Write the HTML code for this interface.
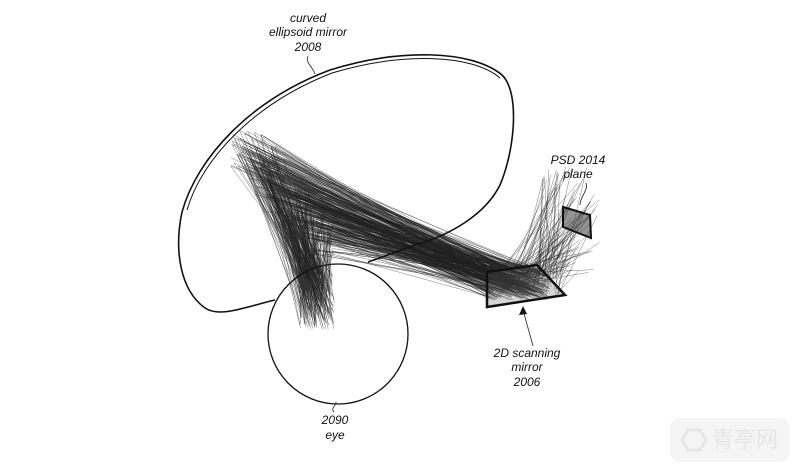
<!DOCTYPE html>
<html><head><meta charset="utf-8"><style>
html,body{margin:0;padding:0;background:#fff;width:800px;height:473px;overflow:hidden}
svg text{font-family:"Liberation Sans","Noto Sans CJK SC",sans-serif;font-style:italic;font-size:12px;fill:#111}
</style></head><body>
<svg id="s" width="800" height="473" viewBox="0 0 800 473" xmlns="http://www.w3.org/2000/svg">
<rect x="670" y="418" width="120" height="44" rx="10" fill="#f5f5f5"/>
<text x="712" y="447" style="font-style:normal;font-size:22px;fill:#e6e6e6">青亭网</text>
<polygon points="682,440 688,430 700,430 706,440 700,450 688,450" fill="none" stroke="#e6e6e6" stroke-width="3"/>
<g id="rays" stroke="#222" stroke-width="0.5" stroke-opacity="0.6" fill="none"></g>
<path d="M275,300 C245,307 220,318 205,308 C180,290 174,250 182,212 C197,158 250,100 330,70 C400,48 472,50 502,75 C520,92 515,150 500,185 C485,215 450,235 415,245 C395,252 380,258 368,262" fill="none" stroke="#111" stroke-width="1.6"/>
<path d="M187,210 C202,158 255,103 332,73 C402,52 472,54 500,78" fill="none" stroke="#111" stroke-width="1"/>
<circle cx="338" cy="334" r="70" fill="none" stroke="#111" stroke-width="1.3"/>
<ellipse cx="306" cy="286" rx="6" ry="5" fill="#333"/>
<polygon points="487,272 537,265 565,295 487,307" fill="rgba(90,90,90,0.25)" stroke="#111" stroke-width="2.5"/>
<polygon points="563,207 590,215 591,238 563,227" fill="rgba(60,60,60,0.55)" stroke="#111" stroke-width="2"/>
<text x="308" y="22" text-anchor="middle">curved</text>
<text x="308" y="36" text-anchor="middle">ellipsoid mirror</text>
<text x="308" y="51" text-anchor="middle">2008</text>
<path d="M308,56 C305,62 312,66 315,74" fill="none" stroke="#222" stroke-width="0.8"/>
<text x="578" y="164" text-anchor="middle">PSD 2014</text>
<text x="578" y="178" text-anchor="middle">plane</text>
<path d="M586,183 C589,190 580,196 580,205" fill="none" stroke="#222" stroke-width="0.8"/>
<text x="527" y="357" text-anchor="middle">2D scanning</text>
<text x="527" y="371" text-anchor="middle">mirror</text>
<text x="527" y="386" text-anchor="middle">2006</text>
<path d="M533,346 L523,310" stroke="#222" stroke-width="0.8"/>
<polygon points="523,306 519,315 527,314" fill="#111"/>
<text x="335" y="424" text-anchor="middle">2090</text>
<text x="335" y="439" text-anchor="middle">eye</text>
<path d="M334,412 C330,408 337,405 336,402" fill="none" stroke="#222" stroke-width="0.8"/>
</svg>
<script>
(function(){
var g=document.getElementById('rays');var seed=7;
function r(){seed=(seed*16807)%2147483647;return seed/2147483647;}
var out='';
function L(a,b,c,d){out+='<line x1="'+a.toFixed(1)+'" y1="'+b.toFixed(1)+'" x2="'+c.toFixed(1)+'" y2="'+d.toFixed(1)+'"/>';}
for(var k=0;k<7;k++){
 var bx=230+k*12, by=130+k*14;
 for(var i=0;i<55;i++){
  var sx=490+r()*60, sy=270+r()*30;
  var fx=bx+r()*35, fy=by+r()*40;
  L(sx,sy,fx,fy);
  if(r()<0.75) L(fx,fy,300+r()*35,275+r()*55);
 }
}
for(var i=0;i<110;i++){
 var sx=500+r()*60, sy=265+r()*30;
 L(sx,sy,540+r()*60,165+r()*110);
}
g.innerHTML=out;
})();
</script>
</body></html>
